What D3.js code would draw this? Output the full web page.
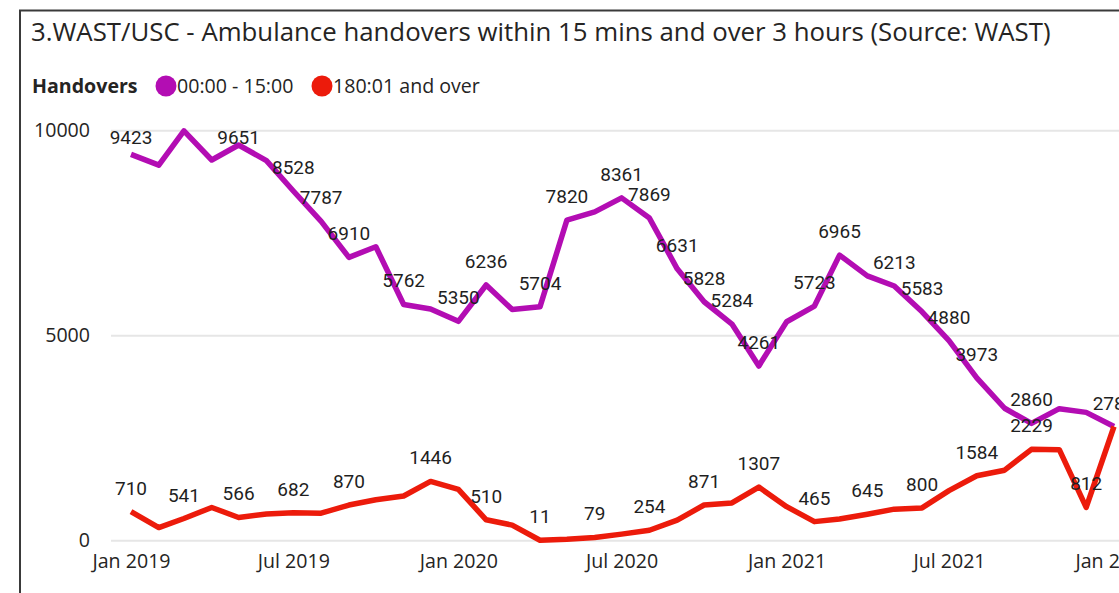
<!DOCTYPE html>
<html>
<head>
<meta charset="utf-8">
<script src="https://cdn.jsdelivr.net/npm/d3@7"></script>
<style>
  html, body { margin: 0; padding: 0; background: #fff; overflow: hidden; }
  svg { display: block; }
</style>
</head>
<body>
<svg id="chart" width="1119" height="593"></svg>
<script>
// ---- data ----
const months = [
  "2019-01","2019-02","2019-03","2019-04","2019-05","2019-06","2019-07","2019-08","2019-09","2019-10","2019-11","2019-12",
  "2020-01","2020-02","2020-03","2020-04","2020-05","2020-06","2020-07","2020-08","2020-09","2020-10","2020-11","2020-12",
  "2021-01","2021-02","2021-03","2021-04","2021-05","2021-06","2021-07","2021-08","2021-09","2021-10","2021-11","2021-12",
  "2022-01"
];
const within15 = [
  9423, 9160, 9998, 9285, 9651, 9270, 8528, 7787, 6910, 7170, 5762, 5650,
  5350, 6236, 5640, 5704, 7820, 8020, 8361, 7869, 6631, 5828, 5284, 4261,
  5340, 5723, 6965, 6460, 6213, 5583, 4880, 3973, 3230, 2860, 3220, 3130,
  2785
];
const over3h = [
  710, 320, 541, 810, 566, 650, 682, 670, 870, 1000, 1090, 1446,
  1250, 510, 380, 11, 35, 79, 160, 254, 500, 871, 920, 1307,
  830, 465, 530, 645, 770, 800, 1220, 1584, 1720, 2229, 2220, 812,
  2785
];
// indices of points whose data labels are displayed
const within15Labelled = [0,4,6,7,8,10,12,13,15,16,18,19,20,21,22,23,25,26,28,29,30,31,33,36];
const over3hLabelled = [0,2,4,6,8,11,13,15,17,19,21,23,25,27,29,31,33,35];
const yTicks = [0, 5000, 10000];
const xTickMonths = ["2019-01","2019-07","2020-01","2020-07","2021-01","2021-07","2022-01"];
const seriesNames = ["00:00 - 15:00", "180:01 and over"];
const legendTitle = "Handovers";
const title = "3.WAST/USC - Ambulance handovers within 15 mins and over 3 hours (Source: WAST)";

// ---- setup ----
const colors = ["#B30DB3", "#EC1B0B"];
const parse = d3.timeParse("%Y-%m");
const dates = months.map(parse);
const svg = d3.select("#chart");
const uiFont = "'Segoe UI', 'Open Sans', 'Noto Sans', sans-serif";
const labelFont = "Roboto, 'DejaVu Sans Condensed', sans-serif";

// frame
svg.append("path")
  .attr("d", "M20,600 L20,10.5 L1130,10.5")
  .attr("fill", "none").attr("stroke", "#3a3a3a").attr("stroke-width", 2);

// title
svg.append("text")
  .attr("x", 31).attr("y", 41)
  .attr("font-family", uiFont).attr("font-size", 25.8)
  .attr("fill", "#252423")
  .text(title);

// legend
const lg = svg.append("g").attr("font-family", uiFont).attr("font-size", 19.6).attr("fill", "#252423");
lg.append("text").attr("x", 32).attr("y", 93).attr("font-weight", "bold").text(legendTitle);
const legendItems = [{x: 166, tx: 177}, {x: 322, tx: 333}];
seriesNames.forEach((n, i) => {
  lg.append("circle").attr("cx", legendItems[i].x).attr("cy", 86).attr("r", 10.5).attr("fill", colors[i]);
  lg.append("text").attr("x", legendItems[i].tx).attr("y", 93).text(n);
});

// scales
const x = d3.scaleTime().domain([dates[0], dates[dates.length - 1]]).range([131, 1114]);
const y = d3.scaleLinear().domain([0, 10000]).range([540.7, 130.7]);

// y labels
const yAxis = d3.axisLeft(y).tickValues(yTicks).tickSize(0).tickPadding(0).tickFormat(d3.format("d"));
const gy = svg.append("g").attr("transform", "translate(90,0)").call(yAxis);
gy.select(".domain").remove();
gy.selectAll("text").attr("font-family", uiFont).attr("font-size", 19.6).attr("fill", "#252423").attr("dy", "0.3em");

// gridlines
svg.append("g").selectAll("line").data(yTicks).join("line")
  .attr("x1", 111).attr("x2", 1119)
  .attr("y1", d => y(d)).attr("y2", d => y(d))
  .attr("stroke", "#e6e6e6").attr("stroke-width", 2);

// x axis
const xAxis = d3.axisBottom(x).tickValues(xTickMonths.map(parse)).tickSize(0).tickPadding(0).tickFormat(d3.timeFormat("%b %Y"));
const gx = svg.append("g").attr("transform", "translate(0,554)").call(xAxis);
gx.select(".domain").remove();
gx.selectAll("text").attr("font-family", uiFont).attr("font-size", 19.6).attr("fill", "#252423").attr("dy", "0.71em");

// lines
const line = d3.line().x((d, i) => x(dates[i])).y(d => y(d));
[within15, over3h].forEach((vals, s) => {
  svg.append("path")
    .datum(vals)
    .attr("d", line)
    .attr("fill", "none")
    .attr("stroke", colors[s])
    .attr("stroke-width", 5.5)
    .attr("stroke-linejoin", "round")
    .attr("stroke-linecap", "butt");
});

// data labels
const labelG = svg.append("g").attr("font-family", labelFont).attr("font-size", 19)
  .attr("fill", "#1f1f1f").attr("text-anchor", "middle");
[[within15, within15Labelled], [over3h, over3hLabelled]].forEach(([vals, idx]) => {
  idx.forEach(i => {
    labelG.append("text")
      .attr("x", x(dates[i]))
      .attr("y", Math.max(143.5, y(vals[i]) - 17))
      .text(vals[i]);
  });
});
</script>
</body>
</html>
